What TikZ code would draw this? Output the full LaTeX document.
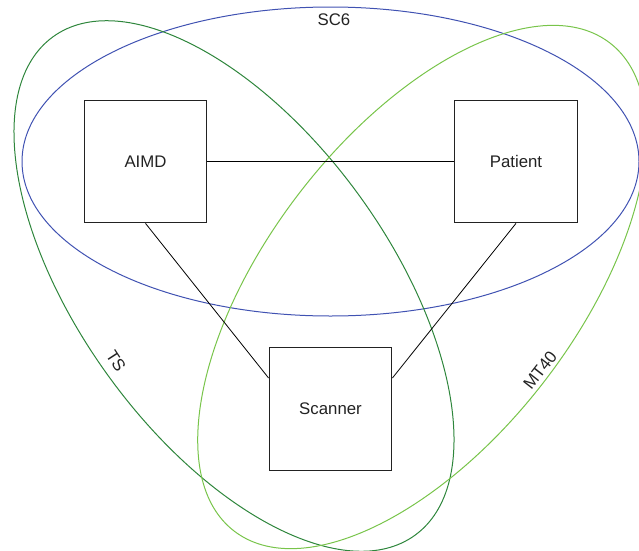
\documentclass[tikz,border=0pt]{standalone}
\usepackage{fontspec}
\setmainfont{Liberation Sans}
\usetikzlibrary{calc,positioning}
\definecolor{scblue}{RGB}{64,82,178}
\definecolor{tsgreen}{RGB}{46,134,60}
\definecolor{mtgreen}{RGB}{120,196,74}
\definecolor{txtgray}{RGB}{34,34,34}
\begin{document}
\begin{tikzpicture}[x=0.75pt,y=-0.75pt,
  box/.style = {draw=txtgray, line width=0.8pt, minimum size=92pt, inner sep=0pt, text=txtgray, font=\fontsize{12.6}{15}\selectfont},
  setlabel/.style = {text=txtgray, inner sep=0pt, font=\fontsize{12.6}{15}\selectfont},
  link/.style = {draw=black, line width=0.6pt},]
\useasboundingbox (0,0) rectangle (639,550);
\clip (0,0) rectangle (639,550);
%Drawing the three sets
\draw[scblue,line width=0.75pt] (330.5,161.5) ellipse [x radius=308.5, y radius=154.5];
\draw[tsgreen,line width=0.75pt,rotate around={-54:(234,286)}] (234,286) ellipse [x radius=308, y radius=154.5];
\draw[mtgreen,line width=0.75pt,rotate around={52.4:(422,287)}] (422,287) ellipse [x radius=308, y radius=154.5];
\node (sc6) at (334,20)[setlabel] {SC6};
\node (ts) at (116,361)[setlabel,rotate=-57] {TS};
\node (mt40) at (540,370)[setlabel,rotate=52] {MT40};
%Drawing the blocks and the links
\node (aimd) at (145.5,161.5)[box] {AIMD};
\node (patient) at (516,161.5)[box] {Patient};
\node (scanner) at (330.5,409)[box] {Scanner};
\draw[link] (aimd.east) -- (patient.west);
\draw[link] (aimd.south) -- ($(scanner.north west)!0.25!(scanner.south west)$);
\draw[link] (patient.south) -- ($(scanner.north east)!0.25!(scanner.south east)$);
\end{tikzpicture}
\end{document}
